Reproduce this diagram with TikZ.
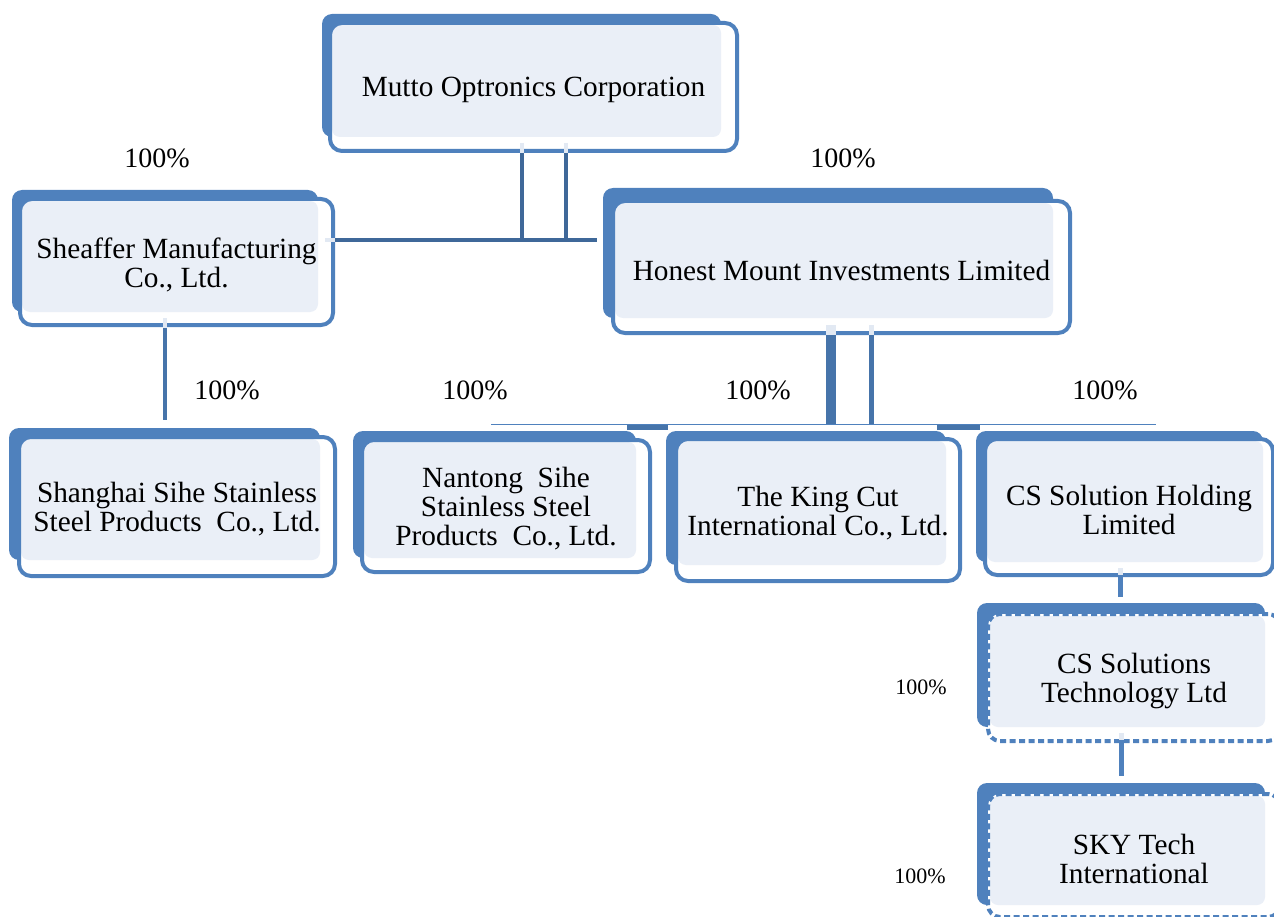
\documentclass[tikz,border=0pt]{standalone}
\usepackage{fontspec}
\setmainfont{Liberation Serif}
\usetikzlibrary{fit,calc}
\definecolor{boxblue}{HTML}{4F81BD}
\definecolor{boxfill}{HTML}{EAEFF7}
\definecolor{connblue}{HTML}{3F6899}
\definecolor{midblue}{HTML}{4674AA}
\definecolor{stubcol}{HTML}{E2E9F3}
\newcommand\myboxfont{\fontsize{29.3}{29}\selectfont}
\newcommand\mypctfont{\fontsize{28}{30}\selectfont}
\newcommand\mysmallpctfont{\fontsize{22}{24}\selectfont}
\tikzset{
  backrect/.style={fill=boxblue, rounded corners=10pt},
  innerfill/.style={fill=boxfill, rounded corners=8pt},
  whitebase/.style={fill=white, rounded corners=12pt},
  outlinebox/.style={draw=boxblue, line width=4pt, rounded corners=12pt, inner sep=0pt, outer sep=0pt},
  dottedbox/.style={outlinebox, dash pattern=on 6pt off 3.5pt},
  boxtext/.style={align=center, font=\myboxfont, inner sep=0pt},
  conn/.style={draw=connblue, line width=4pt},
  connmid/.style={draw=midblue, line width=4pt},
  connlight/.style={draw=boxblue, line width=5pt},
  stubline/.style={draw=stubcol, line width=4pt},
  busline/.style={draw=boxblue, line width=1.5pt},
  pct/.style={font=\mypctfont, inner sep=0pt},
  pctsmall/.style={font=\mysmallpctfont, inner sep=0pt},
}
% #1 style, #2 name, #3 blue tl, #4 blue br, #5 outline tl, #6 outline br, #7 text
\newcommand\orgbox[7][outlinebox]{%
  \fill[backrect] (#3) rectangle (#4);
  \fill[whitebase] (#5) rectangle (#6);
  \fill[innerfill] ($(#5)+(2,2)$) rectangle (#4);
  \coordinate (#2-tl) at (#5);
  \coordinate (#2-br) at (#6);
  \node[#1, fit=(#2-tl)(#2-br)] (#2) {};
  \node[boxtext] (#2-label) at ($(#2.center)+(0,3)$) {#7};
}
\begin{document}
\begin{tikzpicture}[x=1pt,y=-1pt]
\useasboundingbox (0,0) rectangle (1274,917);
\clip (0,0) rectangle (1274,917);

% thick bus pieces behind the boxes
\coordinate (tbA1) at (627,427);
\coordinate (tbA2) at (668,427);
\coordinate (tbB1) at (937,427);
\coordinate (tbB2) at (980,427);
\draw[midblue, line width=5pt] (tbA1) -- (tbA2);
\draw[midblue, line width=5pt] (tbB1) -- (tbB2);

% boxes
\orgbox{mutto}{322,14}{721,137}{330,23}{737,151}{Mutto Optronics Corporation}
\orgbox{sheaffer}{12,190}{318,312}{20,199}{333,325}{Sheaffer Manufacturing\\Co., Ltd.}
\orgbox{honest}{603,188}{1053,318}{613,201}{1070,333}{Honest Mount Investments Limited}
\orgbox{shanghai}{9,428}{320,560}{19,437}{335,576}{Shanghai Sihe Stainless\\Steel Products\ \ Co., Ltd.}
\orgbox{nantong}{353,431}{636,558}{362,440}{650,572}{Nantong\ \ Sihe\\Stainless Steel\\Products\ \ Co., Ltd.}
\orgbox{kingcut}{666,431}{946,565}{676,439}{960,581}{The King Cut\\International Co., Ltd.}
\orgbox{csh}{976,431}{1263,562}{985,439}{1273,575}{CS Solution Holding\\Limited}
\orgbox[dottedbox]{cst}{977,603}{1265,727}{988,614}{1280,741}{CS Solutions\\Technology Ltd}
\orgbox[dottedbox]{sky}{977,783}{1265,905}{988,794}{1280,917}{SKY Tech\\International}

% Mutto connectors
\coordinate (mj) at ($(mutto.south)+(0,89)$);
\draw[stubline] ($(mutto.south)+(-12,-8)$) -- ($(mutto.south)+(-12,2)$);
\draw[stubline] ($(mutto.south)+(32.5,-8)$) -- ($(mutto.south)+(32.5,2)$);
\draw[conn] ($(mutto.south)+(-12,2)$) -- ($(mj)+(-12,2)$);
\draw[conn] ($(mutto.south)+(32.5,2)$) -- ($(mj)+(32.5,2)$);
\draw[stubline] ($(sheaffer.east |- mj)+(-8,0)$) -- ($(sheaffer.east |- mj)+(2,0)$);
\draw[conn] ($(sheaffer.east |- mj)+(2,0)$) -- ($(honest.west |- mj)+(-16,0)$);

% Sheaffer -> Shanghai
\draw[stubline] ($(sheaffer.south)+(-11.5,-7)$) -- ($(sheaffer.south)+(-11.5,3)$);
\draw[connmid] ($(sheaffer.south)+(-11.5,3)$) -- ($(sheaffer.south |- shanghai.north)+(-11.5,-17)$);

% Honest -> row
\coordinate (busL) at (491,424.3);
\coordinate (busR) at (1156,424.3);
\draw[stubline, line width=10pt] ($(honest.south)+(-10.5,-8)$) -- ($(honest.south)+(-10.5,2)$);
\draw[stubline, line width=5pt] ($(honest.south)+(30,-8)$) -- ($(honest.south)+(30,2)$);
\draw[connmid, line width=10pt] ($(honest.south)+(-10.5,2)$) -- ($(honest.south |- busL)+(-10.5,0)$);
\draw[connmid, line width=5pt] ($(honest.south)+(30,2)$) -- ($(honest.south |- busL)+(30,0)$);
\draw[busline] (busL) -- (busR);

% CS chain
\draw[stubline, line width=5pt] ($(csh.south)+(-8.5,-7)$) -- ($(csh.south)+(-8.5,0)$);
\draw[connlight] ($(csh.south)+(-8.5,0)$) -- ($(csh.south |- cst.north)+(-8.5,-17)$);
\draw[stubline, line width=5pt] ($(cst.south)+(-13,-8)$) -- ($(cst.south)+(-13,-1)$);
\draw[connlight] ($(cst.south)+(-13,-1)$) -- ($(cst.south |- sky.north)+(-13,-18)$);

% percentages
\node[pct] (p1) at (157,158) {100\%};
\node[pct] (p2) at (843,158) {100\%};
\node[pct] (p3) at (227,390) {100\%};
\node[pct] (p4) at (475,390) {100\%};
\node[pct] (p5) at (758,390) {100\%};
\node[pct] (p6) at (1105,390) {100\%};
\node[pctsmall] (p7) at (921,687) {100\%};
\node[pctsmall] (p8) at (920,876) {100\%};
\end{tikzpicture}
\end{document}
